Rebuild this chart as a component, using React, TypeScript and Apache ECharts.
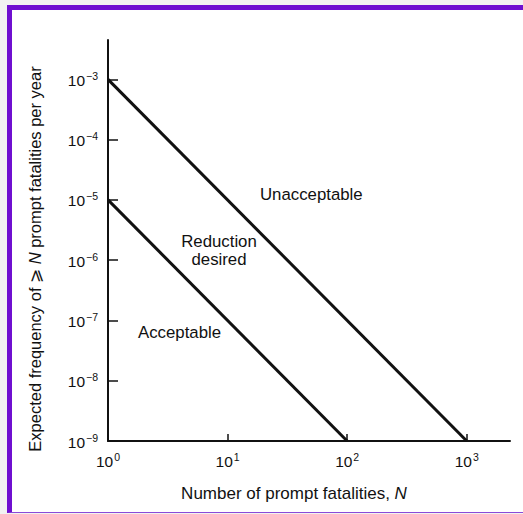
import { useEffect, useRef } from 'react';
import * as echarts from 'echarts';

const xTicks = [1, 10, 100, 1000];
const yTicks = [1e-9, 1e-8, 1e-7, 1e-6, 1e-5, 1e-4, 1e-3];
const upperLimit = [[1, 1e-3], [1000, 1e-9]];
const lowerLimit = [[1, 1e-5], [100, 1e-9]];
const xRange = [1, 2300];
const yRange = [1e-9, 4.5e-3];
const regionLabels = ['Unacceptable', 'Reduction\ndesired', 'Acceptable'];
const xTitle = 'Number of prompt fatalities, ';
const yTitle = 'Expected frequency of ⩾ ';
const yTitleTail = ' prompt fatalities per year';

const FONT = '"Liberation Sans", Arial, Helvetica, sans-serif';
const INK = '#111';

function powLabel(v: number) {
  const e = Math.round(Math.log10(v));
  const s = e < 0 ? '\u2212' + -e : String(e);
  return `{b|10}{s|${s}}`;
}

const labelRich = {
  b: { fontSize: 15.5, fontFamily: FONT, color: INK, lineHeight: 18, verticalAlign: 'bottom' },
  s: { fontSize: 10.5, fontFamily: FONT, color: INK, lineHeight: 18, verticalAlign: 'top', padding: [0, 0, 0, 1] },
};

export default function App() {
  const ref = useRef<HTMLDivElement>(null);
  useEffect(() => {
    if (!ref.current) return;
    const chart = echarts.init(ref.current, null, { renderer: 'svg' });
    const lineStyle = { color: '#111', width: 3 };
    chart.setOption({
      animation: false,
      grid: { left: 108, top: 40, right: 13, bottom: 73 },
      xAxis: {
        type: 'log',
        logBase: 10,
        min: xRange[0],
        max: xRange[1],
        axisLine: { lineStyle: { color: '#111', width: 2 } },
        axisTick: { inside: true, length: 7, lineStyle: { color: '#111', width: 1.5 }, customValues: xTicks },
        axisLabel: { margin: 10, formatter: powLabel, rich: labelRich, customValues: xTicks },
        splitLine: { show: false },
        minorTick: { show: false },
      },
      yAxis: {
        type: 'log',
        logBase: 10,
        min: yRange[0],
        max: yRange[1],
        axisLine: { show: true, lineStyle: { color: '#111', width: 2 } },
        axisTick: { show: true, inside: true, length: 10, lineStyle: { color: '#111', width: 1.5 }, customValues: yTicks },
        axisLabel: { margin: 10, formatter: powLabel, rich: labelRich, customValues: yTicks },
        splitLine: { show: false },
      },
      series: [
        { type: 'line', data: upperLimit, showSymbol: false, symbol: 'none', lineStyle },
        { type: 'line', data: lowerLimit, showSymbol: false, symbol: 'none', lineStyle },
      ],
      graphic: [
        {
          type: 'text', x: 260, y: 194,
          style: { text: regionLabels[0], font: `16.8px ${FONT}`, fill: INK, align: 'left', verticalAlign: 'middle' },
        },
        {
          type: 'text', x: 219, y: 250,
          style: { text: regionLabels[1], font: `16.8px ${FONT}`, fill: INK, align: 'center', verticalAlign: 'middle', lineHeight: 18 },
        },
        {
          type: 'text', x: 138, y: 332,
          style: { text: regionLabels[2], font: `16.8px ${FONT}`, fill: INK, align: 'left', verticalAlign: 'middle' },
        },
        {
          type: 'text', x: 294, y: 493,
          style: {
            text: `{a|${xTitle}}{i|N}`,
            align: 'center', verticalAlign: 'middle',
            rich: {
              a: { fontSize: 17, fontFamily: FONT, fill: INK },
              i: { fontSize: 17, fontFamily: FONT, fill: INK, fontStyle: 'italic' },
            },
          },
        },
        {
          type: 'text', x: 35, y: 259, rotation: Math.PI / 2,
          style: {
            text: `{a|${yTitle}}{i|N}{a|${yTitleTail}}`,
            align: 'center', verticalAlign: 'middle',
            rich: {
              a: { fontSize: 16.5, fontFamily: FONT, fill: INK },
              i: { fontSize: 16.5, fontFamily: FONT, fill: INK, fontStyle: 'italic' },
            },
          },
        },
      ],
    });
    return () => chart.dispose();
  }, []);

  return (
    <div style={{ position: 'fixed', left: 0, top: 0, width: 523, height: 514, background: '#f2f2f2', overflow: 'hidden' }}>
      <div
        style={{
          position: 'absolute', left: 7, top: 5, right: 0, bottom: 1,
          background: '#fff', borderLeft: '5px solid #6f0fd0', borderTop: '5px solid #6f0fd0',
          borderBottom: '1px solid #8a4ad8',
        }}
      />
      <div ref={ref} style={{ position: 'absolute', left: 0, top: 0, width: 523, height: 514 }} />
    </div>
  );
}
